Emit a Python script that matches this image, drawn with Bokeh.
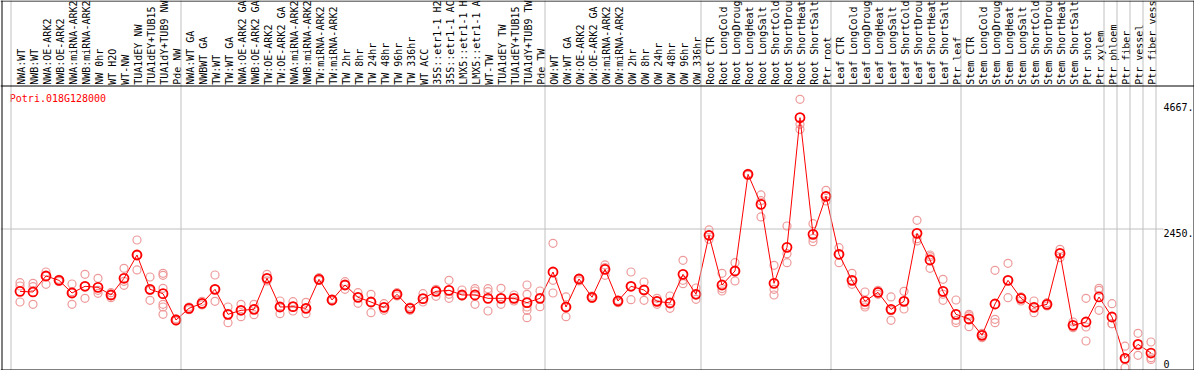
import numpy as np
from bokeh.plotting import figure
from bokeh.models import Range1d, Span
from bokeh.core.properties import value
from bokeh.embed import file_html
from bokeh.resources import INLINE

gene_id = "Potri.018G128000"

labels = [
    "NWA:WT", "NWB:WT", "NWA:OE-ARK2", "NWB:OE-ARK2", "NWA:miRNA-ARK2", "NWB:miRNA-ARK2",
    "NW 0hr", "WT H2O", "WT-NW", "TUA1dEY NW", "TUA1dEY+TUB15", "TUA1dY+TUB9 NW", "Pde NW",
    "NWA:WT GA", "NWBWT GA", "TW:WT", "TW:WT GA", "NWA:OE-ARK2 GA", "NWB:OE-ARK2 GA",
    "TW:OE-ARK2", "TW:OE-ARK2 GA", "NWA:miRNA-ARK2 GA", "NWB:miRNA-ARK2 GA", "TW:miRNA-ARK2",
    "TW:miRNA-ARK2 GA", "TW 2hr", "TW 8hr", "TW 24hr", "TW 48hr", "TW 96hr", "TW 336hr", "WT ACC",
    "35S::etr1-1 H2O", "35S::etr1-1 ACC", "LMX5::etr1-1 H2O", "LMX5::etr1-1 ACC", "WT-TW",
    "TUA1dEY TW", "TUA1dEY+TUB15", "TUA1dY+TUB9 TW", "Pde TW",
    "OW:WT", "OW:WT GA", "OW:OE-ARK2", "OW:OE-ARK2 GA", "OW:miRNA-ARK2", "OW:miRNA-ARK2 GA",
    "OW 2hr", "OW 8hr", "OW 24hr", "OW 48hr", "OW 96hr", "OW 336hr",
    "Root CTR", "Root LongCold", "Root LongDrought", "Root LongHeat", "Root LongSalt",
    "Root ShortCold", "Root ShortDrought", "Root ShortHeat", "Root ShortSalt", "Ptr root",
    "Leaf CTR", "Leaf LongCold", "Leaf LongDrought", "Leaf LongHeat", "Leaf LongSalt",
    "Leaf ShortCold", "Leaf ShortDrought", "Leaf ShortHeat", "Leaf ShortSalt", "Ptr leaf",
    "Stem CTR", "Stem LongCold", "Stem LongDrought", "Stem LongHeat", "Stem LongSalt",
    "Stem ShortCold", "Stem ShortDrought", "Stem ShortHeat", "Stem ShortSalt", "Ptr shoot", "Ptr xylem",
    "Ptr phloem", "Ptr fiber", "Ptr vessel", "Ptr fiber vessel",
]

group_sizes = [13, 28, 12, 10, 10, 11, 1, 1, 1, 1]

means = [
    1351, 1340, 1622, 1545, 1322, 1440, 1422, 1287, 1581, 1992, 1387, 1310, 846,
    1052, 1140, 1387, 946, 1017, 1034, 1581, 1075, 1081, 1052, 1563, 1199, 1463, 1246,
    1163, 1069, 1299, 1052, 1222, 1351, 1369, 1287, 1287, 1228, 1228, 1228, 1152, 1228,
    1692, 1075, 1569, 1246, 1739, 1181, 1440, 1375, 1175, 1146, 1651, 1299,
    2339, 1463, 1710, 3414, 2885, 1492, 2127, 4413, 2356, 3026,
    2004, 1545, 1175, 1334, 1034, 1175, 2374, 1904, 1351, 946,
    864, 576, 1128, 1545, 1228, 1069, 1122, 2021, 752, 811, 1252,
    899, 170, 417, 264,
]

replicates = [
    [1504, 1445, 1163], [1493, 1434, 1122], [1692, 1622, 1475], [1563, 1545, 1528],
    [1481, 1346, 1122], [1651, 1440, 1228], [1581, 1369, 1316], [1328, 1287, 1240],
    [1757, 1528, 1457], [2256, 1992, 1728], [1604, 1369, 1193],
    [1669, 1634, 1404, 1122, 1075, 946], [868, 840, 829],
    [1075, 1052, 1028], [1175, 1134, 1111], [1639, 1387, 1175], [1075, 946, 799],
    [1122, 1017, 905], [1122, 1034, 940], [1651, 1581, 1534], [1181, 1075, 958],
    [1169, 1081, 1005], [1158, 1052, 958], [1592, 1563, 1545], [1210, 1199, 1181],
    [1522, 1463, 1387], [1328, 1246, 1140], [1299, 1163, 975], [1134, 1069, 1017],
    [1328, 1299, 1269], [1075, 1052, 1017], [1310, 1222, 1163], [1387, 1351, 1263],
    [1545, 1299, 1228], [1375, 1287, 1269], [1398, 1357, 1122], [1398, 1346, 1005],
    [1404, 1228, 1122], [1287, 1228, 1181], [1463, 1299, 1152, 1075, 1017, 887],
    [1357, 1228, 1081],
    [2198, 1545, 1322], [1252, 1075, 905], [1581, 1569, 1534], [1269, 1246, 1228],
    [1816, 1769, 1634], [1193, 1181, 1152], [1692, 1440, 1205], [1516, 1375, 1193],
    [1228, 1175, 1122], [1269, 1146, 1052], [1898, 1545, 1487], [1410, 1299, 1210],
    [2433, 2339, 2268], [1669, 1400, 1357], [1857, 1710, 1534], [3430, 3414, 3400],
    [3050, 2950, 2662], [1810, 1387, 1287], [2503, 2015, 1857], [4736, 4296, 4207],
    [2544, 2286, 2227], [3132, 3026, 2944],
    [2121, 2004, 1857], [1669, 1545, 1475], [1340, 1110, 1075], [1369, 1334, 1299],
    [1252, 1010, 840], [1351, 1175, 1040], [2603, 2280, 2239], [1992, 1963, 1757],
    [1563, 1300, 1193], [1199, 840, 799],
    [946, 917, 729], [611, 582, 535], [1722, 858, 799], [1845, 1545, 1240],
    [1252, 1228, 1181], [1181, 1069, 975], [1152, 1122, 1093], [2092, 2021, 1945],
    [811, 752, 711], [1228, 723, 476], [1404, 1369, 1017],
    [1134, 782, 781], [384, 150, 5], [611, 417, 223], [458, 182, 152],
]

grid_values = [2450]
tick_values = [0, 2450, 4667]
tick_labels = ["0", "2450.", "4667."]

assert len(labels) == len(means) == len(replicates) == sum(group_sizes)

# ---- layout (window pixel geometry) ----
WIN_W, WIN_H = 1194, 370
W, H = WIN_W, WIN_H
STEP = 13.0            # px per sample
X_FIRST = 19.5         # window x of first sample centre
Y_ZERO = 367.5         # window y of value 0
K = 139.0 / 2450.0     # px per expression unit
MAX_CHARS = 14         # header is only tall enough for this many characters


def dx(X):
    return (X - X_FIRST) / STEP


def dy(Y):
    return (Y_ZERO - Y) / K


FONT = value("DejaVu Sans Mono")
GRID = "#c0c0c0"
REP = "#ee9a9a"
RED = "#ff0000"

p = figure(width=W, height=H, output_backend="svg", toolbar_location=None,
           x_range=Range1d(dx(0), dx(WIN_W)),
           y_range=Range1d(dy(WIN_H), dy(0)),
           x_axis_type=None, y_axis_type=None, min_border=0,
           outline_line_color=None, background_fill_color="white",
           border_fill_color="white")
p.grid.visible = False

# group separators
bounds = np.cumsum([0] + group_sizes) - 1
for k, b in enumerate(bounds):
    loc = dx(10.5) if k == 0 else float(b) + 5.0 / STEP
    p.add_layout(Span(location=loc, dimension="height", line_color=GRID, line_width=1))

# horizontal reference line
for g in grid_values:
    p.segment(x0=dx(0), y0=g, x1=dx(1163), y1=g, line_color=GRID, line_width=1)

# frame lines
p.add_layout(Span(location=dy(0.5), dimension="width", line_color="black", line_width=1))
p.add_layout(Span(location=dy(85.5), dimension="width", line_color="black", line_width=1))
p.add_layout(Span(location=dy(369.5), dimension="width", line_color="black", line_width=1))
p.add_layout(Span(location=dx(1.5), dimension="height", line_color="black", line_width=1))
p.add_layout(Span(location=dx(1193.5), dimension="height", line_color="black", line_width=1))

# replicates
rx, ry = [], []
for i, reps in enumerate(replicates):
    for r in reps:
        rx.append(i)
        ry.append(r)
p.scatter(rx, ry, marker="circle", size=8, fill_color=None, line_color=REP, line_width=1.2)

# mean line + markers
xi = list(range(len(means)))
p.line(xi, means, line_color=RED, line_width=1)
p.scatter(xi, means, marker="circle", size=9, fill_color=None, line_color=RED, line_width=1.8)

# sample labels (vertical), shown as far as the header allows
shown = [s[:MAX_CHARS] for s in labels]
p.text(x=xi, y=[dy(84.3)] * len(xi), text=shown, angle=np.pi / 2,
       text_align="left", text_baseline="middle", x_offset=1,
       text_font=FONT, text_font_size="10px", text_color="black")

# gene id
p.text(x=[dx(9.3)], y=[dy(92)], text=[gene_id], text_align="left", text_baseline="top",
       text_font=FONT, text_font_size="10px", text_color=RED)

# value labels on the right
p.text(x=[dx(1163)] * 2, y=tick_values[1:], text=tick_labels[1:], text_align="left",
       text_baseline="top", text_font=FONT, text_font_size="10px", text_color="black")
p.text(x=[dx(1163)], y=tick_values[:1], text=tick_labels[:1], text_align="left",
       text_baseline="bottom", text_font=FONT, text_font_size="10px", text_color="black")

open("out.html", "w").write(file_html(p, INLINE))
